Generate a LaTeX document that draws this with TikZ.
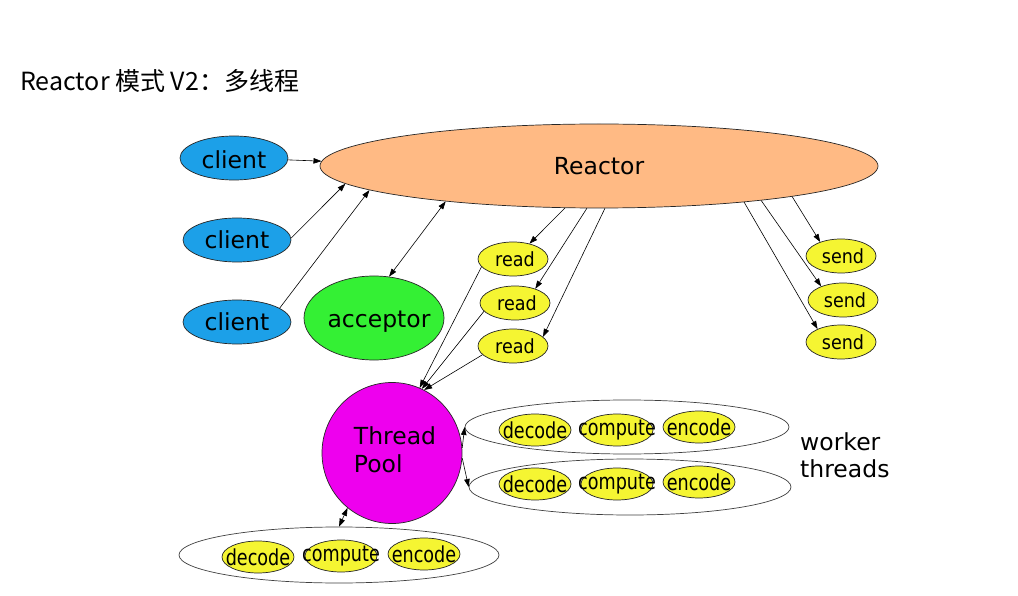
\documentclass[tikz,border=0pt]{standalone}
\usepackage{fontspec}
\setmainfont{DejaVu Sans}
\newfontfamily\cjkfont{Noto Sans CJK SC}
\newfontfamily\condfont[FakeStretch=0.8]{DejaVu Sans}
\newfontfamily\semicondfont[FakeStretch=0.9]{DejaVu Sans}
\usetikzlibrary{shapes.geometric,arrows.meta}
\definecolor{clientblue}{RGB}{28,160,232}
\definecolor{reactorfill}{RGB}{255,186,132}
\definecolor{accfill}{RGB}{52,240,52}
\definecolor{yel}{RGB}{245,245,50}
\definecolor{mag}{RGB}{238,0,238}
\newcommand\zwbox[1]{\makebox[0pt]{#1}}
\newcommand\lblbig{\fontsize{23.5}{28}\selectfont}
\newcommand\lblsmall{\semicondfont\fontsize{19.5}{22}\selectfont}
\newcommand\lblwork{\condfont\fontsize{22}{24}\selectfont}
\begin{document}
\begin{tikzpicture}[x=1pt,y=-1pt,
  ell/.style={ellipse, draw=black!85, line width=0.7pt, inner sep=0pt},
  bigell/.style={ell, font=\lblbig},
  smallell/.style={ell, fill=yel, minimum width=70pt, minimum height=34pt, font=\lblsmall},
  workell/.style={ell, fill=yel, minimum width=72pt, minimum height=32pt, font=\lblwork},
  clientell/.style={bigell, fill=clientblue, minimum width=108pt, minimum height=44pt},
  group/.style={ell, draw=black!75},
  conn/.style={line width=0.6pt, -{Triangle[length=8pt,width=5.5pt]}},
  dconn/.style={line width=0.6pt, {Triangle[length=8pt,width=5.5pt]}-{Triangle[length=8pt,width=5.5pt]}}
]
\useasboundingbox (0,0) rectangle (1018,596);
\fill[white] (0,0) rectangle (1018,596);

% title
\node[anchor=base west, inner sep=0pt, font=\cjkfont\fontsize{25}{29}\selectfont] (title) at (20,91) {Reactor 模式 V2：多线程};

% main nodes
\node[bigell, fill=reactorfill, minimum width=558pt, minimum height=84pt] (reactor) at (599,166) {\zwbox{Reactor}};
\node[clientell] (c1) at (234,158) {\zwbox{\raisebox{-2pt}[\height][\depth]{client}}};
\node[clientell] (c2) at (237,240) {\zwbox{client}};
\node[clientell] (c3) at (237,322) {\zwbox{client}};
\node[bigell, fill=accfill, minimum width=140pt, minimum height=84pt] (acc) at (374,318) {\zwbox{\hspace{10pt}\raisebox{-4pt}[\height][\depth]{acceptor}}};

\node[smallell] (r1) at (513,259) {\zwbox{\hspace{4pt}read}};
\node[smallell] (r2) at (515,303) {\zwbox{\hspace{4pt}read}};
\node[smallell] (r3) at (513,346) {\zwbox{\hspace{4pt}read}};
\node[smallell] (s1) at (841,256) {\zwbox{\hspace{4pt}send}};
\node[smallell] (s2) at (843,300) {\zwbox{\hspace{4pt}send}};
\node[smallell] (s3) at (841,342) {\zwbox{\hspace{4pt}send}};

\node[bigell, fill=mag, minimum width=140pt, minimum height=141pt] (tp) at (392,453)
  {\zwbox{\hspace{6pt}\begin{tabular}{@{}l@{}}Thread\\Pool\end{tabular}}};

% worker groups
\node[group, minimum width=324pt, minimum height=54pt] (w1) at (627,427) {};
\node[group, minimum width=322pt, minimum height=56pt] (w2) at (630,487) {};
\node[group, minimum width=320pt, minimum height=56pt] (wb) at (339,555) {};

\node[workell] (w1a) at (535,430) {\zwbox{decode}};
\node[workell] (w1b) at (617,430) {\zwbox{compute}};
\node[workell] (w1c) at (699,427) {\zwbox{encode}};
\node[workell] (w2a) at (535,484) {\zwbox{decode}};
\node[workell] (w2b) at (617,484) {\zwbox{compute}};
\node[workell] (w2c) at (699,482) {\zwbox{encode}};
\node[workell] (wba) at (258,557) {\zwbox{decode}};
\node[workell] (wbb) at (341,556) {\zwbox{compute}};
\node[workell] (wbc) at (424,554) {\zwbox{encode}};

\node[anchor=west, align=left, inner sep=0pt, font=\fontsize{23.5}{27}\selectfont] (wt) at (800,455) {worker\\threads};

% connectors
\draw[conn] (c1.-2) -- (reactor.179);
\draw[conn] (c2.2) -- (reactor.184);
\draw[conn] (c3.18) -- (reactor.186);
\draw[dconn] (acc.70) -- (reactor.193);

\draw[conn] (reactor.231) -- (r1.43);
\draw[conn] (reactor.254) -- (r2.35);
\draw[conn] (reactor.278) -- (r3.17);

\draw[conn] (r1.194) -- (tp.67);
\draw[conn] (r2.195) -- (tp.65);
\draw[conn] (r3.196) -- (tp.63);

\draw[conn] (reactor.351.5) -- (s1.146);
\draw[conn] (reactor.348.2) -- (s2.148);
\draw[conn] (reactor.346.3) -- (s3.151);

\draw[conn] (tp.4) -- (w1.180);
\draw[conn] (tp.-4) -- (w2.180);
\draw[dconn] (tp.231) -- (wb.90);
\end{tikzpicture}
\end{document}
